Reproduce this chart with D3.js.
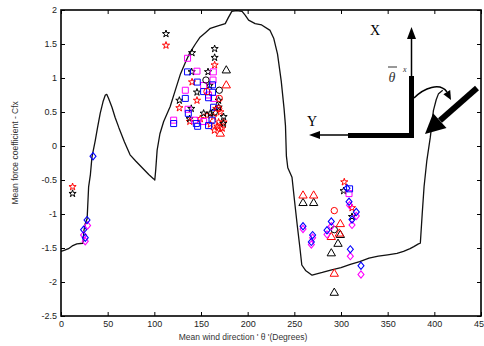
<!DOCTYPE html>
<html>
<head>
<meta charset="utf-8">
<script src="https://cdn.jsdelivr.net/npm/d3@7"></script>
<style>
  body { margin: 0; background: #fff; }
  svg { display: block; font-family: "Liberation Sans", Arial, sans-serif; }
</style>
</head>
<body>
<svg id="chart" width="484" height="346"></svg>
<script>
// ---- data (degrees, mean force coefficient) ----
const curveDeg = [0, 4, 8, 12, 17, 23.5, 24.5, 26, 28, 29.6, 31.5, 33.2, 36.7, 39, 42, 45, 47.5, 49, 51, 54.6, 58, 62, 68, 74, 80, 87, 94, 99, 100.5, 101.5, 103, 106, 110, 117, 122, 128, 133, 138, 144, 149, 155, 160, 169, 176, 179, 183, 188, 194, 197.5, 201, 208, 215, 224, 228, 232, 236, 239, 240.5, 241.5, 243, 247.5, 250, 253, 256, 258, 262, 269, 280, 290, 300, 310, 320, 330, 340, 350, 360, 367, 374, 378, 383, 385, 387, 389, 392, 395.7, 399, 402, 404.5, 409];
const curveVal = [-1.55, -1.53, -1.51, -1.47, -1.44, -1.43, -1.25, -1.14, -1.07, -0.60, -0.42, -0.16, 0.08, 0.26, 0.48, 0.65, 0.75, 0.76, 0.70, 0.57, 0.42, 0.27, 0.06, -0.13, -0.22, -0.32, -0.42, -0.48, -0.50, -0.35, -0.06, 0.18, 0.36, 0.58, 0.80, 1.06, 1.22, 1.37, 1.50, 1.60, 1.67, 1.73, 1.77, 1.80, 1.88, 1.98, 1.99, 1.98, 1.92, 1.85, 1.80, 1.78, 1.70, 1.58, 1.35, 0.95, 0.55, 0.30, -0.15, -0.32, -0.46, -0.78, -1.15, -1.50, -1.75, -1.83, -1.90, -1.86, -1.82, -1.79, -1.74, -1.70, -1.65, -1.62, -1.60, -1.58, -1.55, -1.51, -1.48, -1.44, -1.43, -1.00, -0.60, -0.21, 0.13, 0.52, 0.68, 0.77, 0.82];

const starsRed = [[12.4, -0.60], [112.5, 1.48], [164.6, 1.19], [140.4, 0.94], [145.7, 0.67], [126.8, 0.56], [138, 0.36], [149.3, 0.40], [156.4, 0.45], [163.5, 0.43], [168.9, 0.35], [174.2, 0.35], [170.7, 0.50], [166.4, 0.55], [167.5, 0.29], [172.8, 0.26], [160, 0.32], [164.3, 0.23], [303.5, -0.53], [311.8, -0.91]];
const starsBlack = [[12.4, -0.70], [112.5, 1.65], [140.4, 1.37], [164.6, 1.43], [164.6, 1.30], [157.5, 1.09], [140, 1.09], [126.8, 0.67], [145.7, 0.79], [139.6, 0.55], [152.8, 0.48], [160, 0.48], [168.9, 0.67], [168.9, 0.57], [174.2, 0.43], [137.8, 0.40], [159.2, 0.89], [173.9, 0.33], [302.8, -0.66], [311.8, -1.04]];
const squaresMagenta = [[135.6, 1.29], [145.7, 1.10], [163.2, 1.09], [162.9, 0.97], [152.8, 0.89], [133.2, 0.82], [158.1, 0.75], [163.5, 0.70], [136.1, 0.54], [120.7, 0.38], [143.1, 0.38], [152.8, 0.36], [308.6, -0.70]];
const squaresBlue = [[135.6, 1.09], [146, 0.94], [162.3, 0.90], [152.8, 0.80], [162.3, 0.79], [158.1, 0.71], [133.2, 0.70], [163.5, 0.57], [136.4, 0.48], [120.7, 0.33], [145, 0.33], [146.4, 0.29], [158.1, 0.30], [161.8, 0.38], [309.2, -0.63]];
const circlesBlack = [[155.3, 0.97], [169.6, 0.82], [164.3, 0.50], [292.8, -1.23]];
const circlesRed = [[156.4, 0.80], [169.6, 0.70], [168.9, 0.55], [170, 0.26], [292.8, -0.95]];
const trianglesBlack = [[177.1, 1.11], [259.3, -0.84], [270.7, -0.84], [299.3, -1.31], [296.8, -1.44], [289.6, -1.58], [292.8, -2.16]];
const trianglesRed = [[177.1, 0.89], [170.7, 0.18], [259.3, -0.73], [270.7, -0.73], [299.3, -1.15], [298.2, -1.29], [289.6, -1.34], [292.8, -1.88]];
const diamondsMagenta = [[28.5, -1.17], [24.2, -1.31], [26, -1.40], [309.2, -0.87], [316.4, -1.03], [311.8, -1.16], [289.6, -1.18], [285, -1.30], [259.3, -1.22], [269.6, -1.35], [268.2, -1.45], [310, -1.62], [321.4, -1.89]];
const diamondsBlue = [[27.9, -1.09], [24.2, -1.23], [26, -1.35], [34.3, -0.15], [306.4, -0.62], [308.6, -0.82], [316.4, -0.97], [311.8, -1.08], [289.6, -1.11], [285, -1.24], [259.3, -1.18], [269.6, -1.31], [268.2, -1.41], [310, -1.52], [321.4, -1.76]];

const xTicks = [0, 50, 100, 150, 200, 250, 300, 350, 400, 450];
const yTicks = [2, 1.5, 1, 0.5, 0, -0.5, -1, -1.5, -2, -2.5];

// ---- layout ----
const margin = { left: 61, right: 3, top: 10, bottom: 30 };
const svg = d3.select('#chart');
const width = 484 - margin.left - margin.right;
const height = 346 - margin.top - margin.bottom;
const g = svg.append('g').attr('transform', `translate(${margin.left},${margin.top})`);

const x = d3.scaleLinear().domain([0, 450]).range([0, width]);
const y = d3.scaleLinear().domain([-2.5, 2]).range([height, 0]);

// axes, ticks pointing inward on all four sides
const fmt = d => String(d);
g.append('g').attr('transform', `translate(0,${height})`)
  .call(d3.axisBottom(x).tickValues(xTicks).tickSize(-4).tickPadding(5).tickFormat(fmt));
g.append('g').call(d3.axisTop(x).tickValues(xTicks).tickSize(-4).tickFormat(''));
g.append('g').call(d3.axisLeft(y).tickValues(yTicks).tickSize(-4).tickPadding(4).tickFormat(fmt));
g.append('g').attr('transform', `translate(${width},0)`)
  .call(d3.axisRight(y).tickValues(yTicks).tickSize(-4).tickFormat(''));
g.selectAll('.domain').remove();
g.selectAll('.tick line').attr('stroke', '#000').attr('stroke-width', 1);
g.selectAll('.tick text').attr('font-size', 9).attr('fill', '#222')
  .attr('font-family', '"Liberation Sans", Arial, sans-serif');

// mean force curve
const curve = curveDeg.map((d, i) => [d, curveVal[i]]);
g.append('path')
  .datum(curve)
  .attr('fill', 'none')
  .attr('stroke', '#111')
  .attr('stroke-width', 1.3)
  .attr('stroke-linejoin', 'round')
  .attr('d', d3.line().x(d => x(d[0])).y(d => y(d[1])));

// markers
function drawMarkers(data, type, size, color, tf) {
  g.append('g').selectAll('path')
    .data(data)
    .enter()
    .append('path')
    .attr('d', d3.symbol().type(type).size(size))
    .attr('transform', d => `translate(${x(d[0])},${y(d[1])})${tf || ''}`)
    .attr('fill', 'none')
    .attr('stroke', color)
    .attr('stroke-width', 1);
}
drawMarkers(starsRed, d3.symbolStar, 16, '#ff0000');
drawMarkers(starsBlack, d3.symbolStar, 16, '#000');
drawMarkers(squaresMagenta, d3.symbolSquare, 36, '#ff00ff');
drawMarkers(squaresBlue, d3.symbolSquare, 36, '#0000ff');
drawMarkers(circlesBlack, d3.symbolCircle, 32, '#000');
drawMarkers(circlesRed, d3.symbolCircle, 32, '#ff0000');
drawMarkers(trianglesBlack, d3.symbolTriangle, 30, '#000');
drawMarkers(trianglesRed, d3.symbolTriangle, 30, '#ff0000');
drawMarkers(diamondsMagenta, d3.symbolSquare, 18, '#ff00ff', ' scale(1,1.2) rotate(45)');
drawMarkers(diamondsBlue, d3.symbolSquare, 18, '#0000ff', ' scale(1,1.2) rotate(45)');

// frame
g.append('rect').attr('width', width).attr('height', height)
  .attr('fill', 'none').attr('stroke', '#000').attr('stroke-width', 1.6);

// axis titles
svg.append('text')
  .attr('x', 243).attr('y', 340)
  .attr('text-anchor', 'middle').attr('font-size', 8.5).attr('fill', '#333')
  .text("Mean  wind direction ' \u03b8 '(Degrees)");
svg.append('text')
  .attr('transform', `translate(18,${margin.top + y(-0.1)}) rotate(-90)`)
  .attr('text-anchor', 'middle').attr('font-size', 8.5).attr('fill', '#333')
  .text('Mean force coefficient - Cfx');

// inset: axes sketch with wind direction
const ins = svg.append('g');
const serif = '"Liberation Serif", "DejaVu Serif", serif';
ins.append('text').attr('x', 375).attr('y', 35).attr('text-anchor', 'middle')
  .attr('font-family', serif).attr('font-size', 14).text('X');
ins.append('text').attr('x', 312).attr('y', 126).attr('text-anchor', 'middle')
  .attr('font-family', serif).attr('font-size', 14).text('Y');
ins.append('text').attr('x', 392).attr('y', 82).attr('text-anchor', 'middle')
  .attr('font-family', serif).attr('font-style', 'italic').attr('font-size', 14).attr('fill', '#333').text('\u03b8');
ins.append('line').attr('x1', 388).attr('x2', 397).attr('y1', 67).attr('y2', 67)
  .attr('stroke', '#333').attr('stroke-width', 1);
ins.append('text').attr('x', 403).attr('y', 72)
  .attr('font-family', serif).attr('font-style', 'italic').attr('font-size', 8).attr('fill', '#333').text('x');

// thin axis arrows
ins.append('line').attr('x1', 411.5).attr('y1', 78).attr('x2', 411.5).attr('y2', 36)
  .attr('stroke', '#000').attr('stroke-width', 1.5);
ins.append('polygon').attr('points', '411.5,27 407,39 416,39').attr('fill', '#000');
ins.append('line').attr('x1', 349).attr('y1', 135).attr('x2', 318).attr('y2', 135)
  .attr('stroke', '#000').attr('stroke-width', 1.5);
ins.append('polygon').attr('points', '309,135 320,131 320,139').attr('fill', '#000');

// thick structure bars
ins.append('rect').attr('x', 409).attr('y', 76).attr('width', 5).attr('height', 62).attr('fill', '#000');
ins.append('rect').attr('x', 348).attr('y', 133).attr('width', 66).attr('height', 5).attr('fill', '#000');

// curved angle arrow
ins.append('path').attr('d', 'M414,98 C424,88 440,82 447,92')
  .attr('fill', 'none').attr('stroke', '#000').attr('stroke-width', 1.5);
ins.append('polygon').attr('points', '451,100 443.4,94.3 450.2,90.1').attr('fill', '#000');

// wind arrow
ins.append('line').attr('x1', 477).attr('y1', 88).attr('x2', 440).attr('y2', 120.5)
  .attr('stroke', '#000').attr('stroke-width', 6);
ins.append('polygon').attr('points', '425,134 446.5,128 433.1,113.2').attr('fill', '#000');
</script>
</body>
</html>
